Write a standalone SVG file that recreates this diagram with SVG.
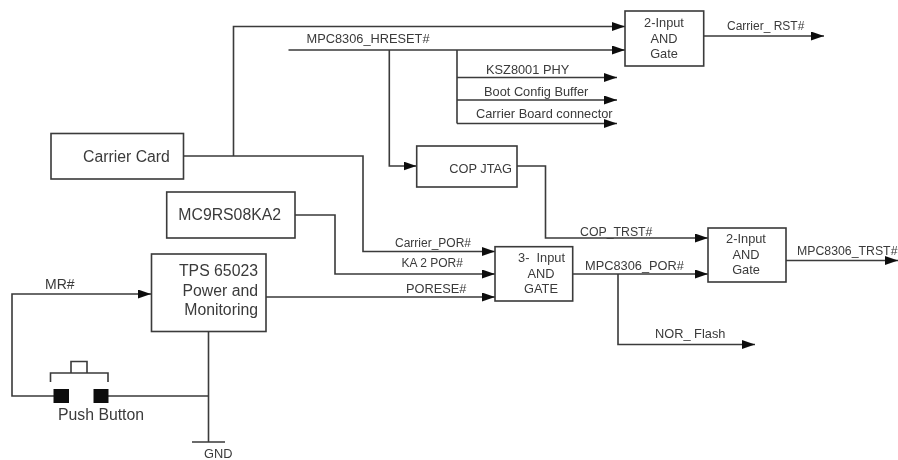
<svg xmlns="http://www.w3.org/2000/svg" width="898" height="460" viewBox="0 0 898 460">
<style>
text{font-family:"Liberation Sans",Arial,sans-serif;fill:#3a3a3a;font-size:12.800px}
.l{font-size:15.800px}
.s{font-size:12px}
.n{font-size:12.300px}
.k{font-size:14px}
.m{text-anchor:middle}
.e{text-anchor:end}
.b{fill:#fff;stroke:#3a3a3a;stroke-width:1.6}
.w{fill:none;stroke:#3a3a3a;stroke-width:1.600}
.a{marker-end:url(#ah)}
</style>
<defs>
<marker id="ah" markerUnits="userSpaceOnUse" markerWidth="14" markerHeight="10" refX="13" refY="4.500" orient="auto"><path d="M0 0L13 4.500L0 9Z" fill="#111"/></marker>
<filter id="soft" x="0" y="0" width="100%" height="100%" filterUnits="objectBoundingBox"><feGaussianBlur stdDeviation="0.4"/></filter>
</defs>
<rect width="898" height="460" fill="#fff"/>
<g filter="url(#soft)">
<rect width="898" height="460" fill="#fff"/>
<g id="connectors">
<path class="w a" d="M233.500 156V26.500H625"/>
<path class="w a" d="M288.500 50H625"/>
<path class="w a" d="M389.300 50V166H416.500"/>
<path class="w" d="M457 50V123.500"/>
<path class="w a" d="M457 77.500H617"/>
<path class="w a" d="M457 100H617"/>
<path class="w a" d="M457 123.500H617"/>
<path class="w a" d="M703.500 36H824"/>
<path class="w a" d="M517 166H545.500V238H708"/>
<path class="w a" d="M573 274H708"/>
<path class="w a" d="M618 274V344.500H755"/>
<path class="w a" d="M786 260.500H898"/>
<path class="w a" d="M183.500 156H363V251.500H495"/>
<path class="w a" d="M293 215H335V274H495"/>
<path class="w a" d="M266 297H495"/>
<path class="w a" d="M54 396H12V294H151"/>
<path class="w" d="M108 396H208.500"/>
<path class="w" d="M208.500 332V442M192 442H225"/>
</g>
<g id="carrier-card"><rect class="b" x="51" y="133.500" width="132.500" height="45.500"/><text class="l" x="83" y="161.500">Carrier Card</text></g>
<g id="mc9rs08ka2"><rect class="b" x="166.700" y="192" width="128.300" height="46"/><text class="l m" x="229.700" y="219.500">MC9RS08KA2</text></g>
<g id="tps65023"><rect class="b" x="151.500" y="254" width="114.500" height="77.500"/>
<text class="l e" x="258" y="276">TPS 65023</text><text class="l e" x="258" y="295.500">Power and</text><text class="l e" x="258" y="315">Monitoring</text></g>
<g id="cop-jtag"><rect class="b" x="416.700" y="146" width="100.300" height="41"/><text class="e" x="512" y="172.500">COP JTAG</text></g>
<g id="and-carrier"><rect class="b" x="625" y="11" width="78.700" height="55"/><text class="m" x="664" y="27">2-Input</text><text class="m" x="664" y="42.500">AND</text><text class="m" x="664" y="58">Gate</text></g>
<g id="and-three"><rect class="b" x="495" y="246.700" width="77.700" height="54.300"/><text class="e" x="565" y="262" style="white-space:pre">3-  Input</text><text class="m" x="541" y="277.500">AND</text><text class="m" x="541" y="293">GATE</text></g>
<g id="and-trst"><rect class="b" x="708" y="228" width="78" height="54"/><text class="m" x="746" y="243">2-Input</text><text class="m" x="746" y="258.500">AND</text><text class="m" x="746" y="274">Gate</text></g>
<g id="push-button">
<path class="w" d="M50.500 382V373H108V382M71 373V361.500H87V373"/>
<rect x="53.500" y="389" width="15.500" height="14" fill="#111"/><rect x="93.500" y="389" width="15" height="14" fill="#111"/>
<text class="l" x="58" y="420">Push Button</text></g>
<g id="labels">
<text x="306.500" y="42.500">MPC8306_HRESET#</text>
<text x="486" y="73.500">KSZ8001 PHY</text>
<text x="484" y="96">Boot Config Buffer</text>
<text x="476" y="118">Carrier Board connector</text>
<text class="s" x="727" y="30">Carrier_ RST#</text>
<text class="n" x="580" y="235.500">COP_TRST#</text>
<text x="585" y="270">MPC8306_POR#</text>
<text class="n" x="797" y="255">MPC8306_TRST#</text>
<text x="655" y="337.500">NOR_ Flash</text>
<text class="s" x="395" y="246.500">Carrier_POR#</text>
<text class="s" x="401.500" y="267">KA 2 POR#</text>
<text x="406" y="293">PORESE#</text>
<text class="k" x="45" y="289">MR#</text>
<text x="204" y="458">GND</text>
</g>
</g>
</svg>
